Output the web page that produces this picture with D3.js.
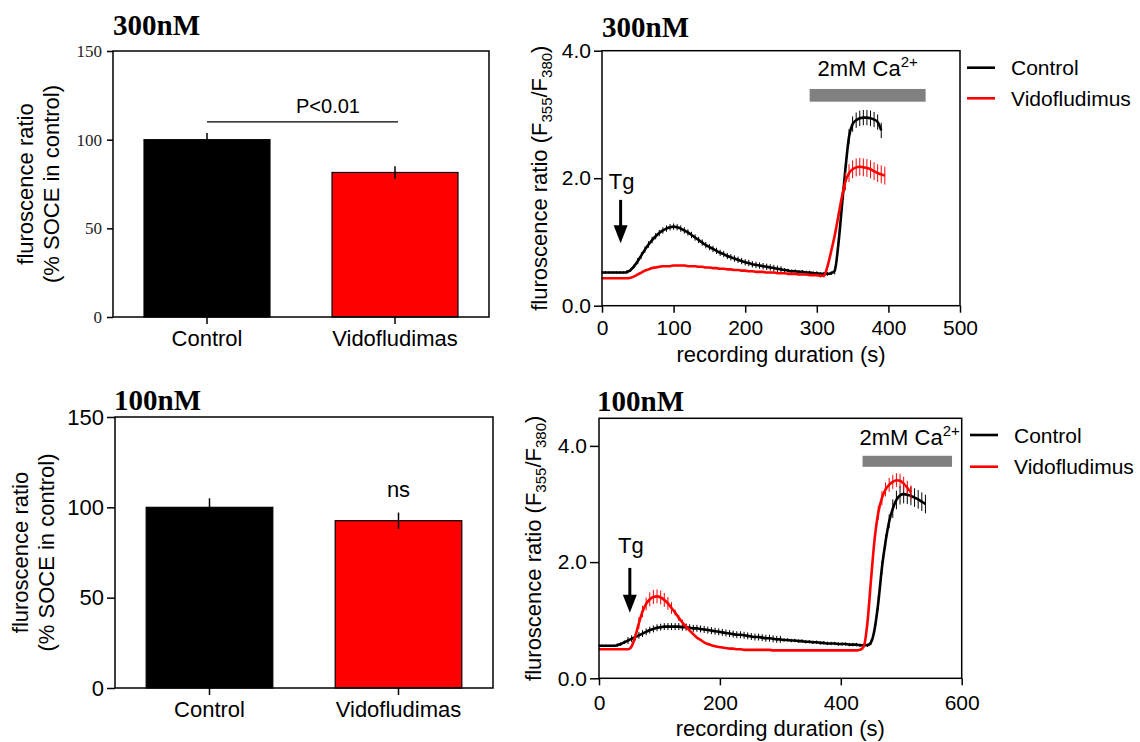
<!DOCTYPE html>
<html>
<head>
<meta charset="utf-8">
<script src="https://cdn.jsdelivr.net/npm/d3@7"></script>
<style>
  body { margin: 0; background: #fff; }
  svg { display: block; font-family: "Liberation Sans", Arial, sans-serif; }
  .title { font-family: "Liberation Serif", "Times New Roman", serif; font-weight: bold; font-size: 29px; }
</style>
</head>
<body>
<svg width="1140" height="742"></svg>
<script>
// bar charts (% SOCE in control)
const groups = ["Control", "Vidofludimas"];
const bars300 = [100, 81.5];
const bars300Err = [3.8, 3.5];
const bars100 = [100, 92.6];
const bars100Err = [5, 4.5];
const barTicks = [0, 50, 100, 150];

const legendNames = ["Control", "Vidofludimus"];
const colors = ["#000000", "#ff0000"];

// 300nM traces, one sample every 5 s
const step300 = 5;
const ctrl300 = [
  0.52, 0.52, 0.52, 0.52, 0.52, 0.52, 0.52,
  0.53, 0.56, 0.62, 0.70, 0.79, 0.88, 0.96, 1.03, 1.09, 1.14, 1.18, 1.21, 1.23, 1.24,
  1.23, 1.21, 1.18, 1.15, 1.11, 1.07, 1.03, 0.99, 0.95, 0.92,
  0.89, 0.86, 0.83, 0.81, 0.78, 0.76, 0.74, 0.72, 0.70, 0.68,
  0.67, 0.65, 0.64, 0.63, 0.62, 0.61, 0.60, 0.59, 0.58, 0.57,
  0.56, 0.55, 0.54, 0.54, 0.53, 0.53, 0.52, 0.52, 0.51, 0.51,
  0.50, 0.50, 0.50, 0.51, 0.55, 0.95, 1.55, 2.15, 2.65,
  2.85, 2.91, 2.94, 2.95, 2.95, 2.94, 2.92, 2.88, 2.75
];
const ctrl300Err = [
  0.02, 0.02, 0.02, 0.02, 0.02, 0.02, 0.02,
  0.03, 0.03, 0.03,
  0.05, 0.05, 0.05, 0.05, 0.05, 0.05, 0.05, 0.05, 0.05, 0.05,
  0.05, 0.05, 0.05, 0.05, 0.05, 0.05, 0.05, 0.05, 0.05, 0.05,
  0.05, 0.05, 0.05, 0.05, 0.05, 0.05, 0.05, 0.05, 0.05, 0.05,
  0.05, 0.05, 0.05, 0.05, 0.05, 0.05, 0.05, 0.05, 0.05, 0.05, 0.05,
  0.03, 0.03, 0.03, 0.03, 0.03, 0.03, 0.03, 0.03, 0.03, 0.03, 0.03, 0.03, 0.03, 0.03,
  0.06, 0.06, 0.06, 0.06,
  0.12, 0.12, 0.12, 0.12, 0.12, 0.12, 0.12, 0.12, 0.12, 0.12
];
const vido300 = [
  0.43, 0.43, 0.43, 0.43, 0.43, 0.43, 0.43,
  0.43, 0.44, 0.46, 0.49, 0.52, 0.55, 0.57, 0.59, 0.60, 0.61, 0.62, 0.62, 0.62, 0.63,
  0.63, 0.63, 0.63, 0.62, 0.62, 0.62, 0.61, 0.61, 0.60, 0.60,
  0.59, 0.59, 0.58, 0.58, 0.57, 0.57, 0.56, 0.56, 0.55, 0.55,
  0.54, 0.54, 0.53, 0.53, 0.53, 0.52, 0.52, 0.52, 0.51, 0.51,
  0.51, 0.50, 0.50, 0.50, 0.49, 0.49, 0.49, 0.48, 0.48, 0.48,
  0.47, 0.47, 0.62, 0.85, 1.10, 1.40, 1.70, 1.95, 2.08,
  2.14, 2.17, 2.18, 2.17, 2.16, 2.14, 2.11, 2.08, 2.06, 2.04
];
const vido300Err = [
  0.01, 0.01, 0.01, 0.01, 0.01, 0.01, 0.01, 0.01, 0.01, 0.01,
  0.01, 0.01, 0.01, 0.01, 0.01, 0.01, 0.01, 0.01, 0.01, 0.01,
  0.01, 0.01, 0.01, 0.01, 0.01, 0.01, 0.01, 0.01, 0.01, 0.01,
  0.01, 0.01, 0.01, 0.01, 0.01, 0.01, 0.01, 0.01, 0.01, 0.01,
  0.01, 0.01, 0.01, 0.01, 0.01, 0.01, 0.01, 0.01, 0.01, 0.01,
  0.01, 0.01, 0.01, 0.01, 0.01, 0.01, 0.01, 0.01, 0.01, 0.01, 0.01,
  0.03, 0.03, 0.03, 0.03, 0.03, 0.03, 0.03,
  0.14, 0.14, 0.14, 0.14, 0.14, 0.14, 0.14, 0.14, 0.14, 0.14, 0.14, 0.14
];

// 100nM traces, one sample every 6 s
const step100 = 6;
const ctrl100 = [
  0.56, 0.56, 0.56, 0.56, 0.56,
  0.57, 0.59, 0.62, 0.65, 0.68, 0.71, 0.74, 0.77, 0.80, 0.83,
  0.85, 0.87, 0.88, 0.89, 0.89, 0.89, 0.89, 0.89, 0.88, 0.88,
  0.87, 0.86, 0.86, 0.85, 0.84, 0.83, 0.82, 0.81, 0.80, 0.79,
  0.78, 0.77, 0.76, 0.75, 0.75, 0.74, 0.73, 0.72, 0.71, 0.71,
  0.70, 0.69, 0.69, 0.68, 0.67, 0.67, 0.66, 0.66, 0.65, 0.65,
  0.64, 0.64, 0.63, 0.63, 0.62, 0.62, 0.61, 0.61, 0.60, 0.60,
  0.60, 0.59, 0.59, 0.59, 0.58, 0.58, 0.58, 0.57, 0.57, 0.57,
  0.62, 0.85, 1.30, 1.90, 2.35, 2.70, 2.92, 3.07, 3.15, 3.17,
  3.16, 3.14, 3.11, 3.08, 3.04, 3.00
];
const ctrl100Err = [
  0.02, 0.02, 0.02, 0.02, 0.02,
  0.03, 0.03, 0.03,
  0.06, 0.06, 0.06, 0.06, 0.06, 0.06, 0.06, 0.06, 0.06, 0.06,
  0.06, 0.06, 0.06, 0.06, 0.06, 0.06, 0.06, 0.06, 0.06, 0.06,
  0.06, 0.06, 0.06, 0.06, 0.06, 0.06, 0.06, 0.06, 0.06, 0.06,
  0.06, 0.06, 0.06, 0.06, 0.06, 0.06, 0.06, 0.06, 0.06, 0.06,
  0.06, 0.06, 0.06,
  0.03, 0.03, 0.03, 0.03, 0.03, 0.03, 0.03, 0.03, 0.03, 0.03, 0.03, 0.03,
  0.03, 0.03, 0.03, 0.03, 0.03, 0.03, 0.03, 0.03, 0.03, 0.03, 0.03, 0.03,
  0.05, 0.05,
  0.12, 0.12, 0.12, 0.12,
  0.16, 0.16, 0.16, 0.16, 0.16, 0.16, 0.16, 0.16, 0.16, 0.16
];
const vido100 = [
  0.50, 0.50, 0.50, 0.50, 0.50, 0.50, 0.50, 0.50, 0.50,
  0.55, 0.72, 0.95, 1.15, 1.28, 1.36, 1.40, 1.41, 1.39, 1.35,
  1.29, 1.21, 1.13, 1.04, 0.96, 0.89, 0.82, 0.76, 0.70, 0.66,
  0.62, 0.59, 0.57, 0.55, 0.54, 0.53, 0.52, 0.51, 0.51, 0.50,
  0.50, 0.49, 0.49, 0.49, 0.49, 0.49, 0.49, 0.49, 0.49, 0.48,
  0.48, 0.48, 0.48, 0.48, 0.48, 0.48, 0.48, 0.48, 0.48, 0.48,
  0.48, 0.48, 0.48, 0.48, 0.48, 0.48, 0.48, 0.48, 0.48, 0.48,
  0.48, 0.48, 0.48, 0.49, 0.55, 0.95, 1.70, 2.40, 2.85, 3.10,
  3.25, 3.33, 3.38, 3.41, 3.40, 3.35, 3.28, 3.20
];
const vido100Err = [
  0.01, 0.01, 0.01, 0.01, 0.01, 0.01, 0.01, 0.01, 0.01,
  0.04, 0.04,
  0.10, 0.10, 0.11, 0.12, 0.12, 0.12, 0.12, 0.12, 0.11, 0.10,
  0.05, 0.05, 0.05, 0.05,
  0.01, 0.01, 0.01, 0.01, 0.01, 0.01, 0.01, 0.01, 0.01, 0.01,
  0.01, 0.01, 0.01, 0.01, 0.01, 0.01, 0.01, 0.01, 0.01, 0.01,
  0.01, 0.01, 0.01, 0.01, 0.01, 0.01, 0.01, 0.01, 0.01, 0.01,
  0.01, 0.01, 0.01, 0.01, 0.01, 0.01, 0.01, 0.01, 0.01, 0.01,
  0.01, 0.01, 0.01, 0.01, 0.01, 0.01, 0.01, 0.01, 0.01,
  0.05, 0.05, 0.05,
  0.12, 0.12, 0.12, 0.12, 0.12, 0.12, 0.12, 0.12, 0.12, 0.12
];

const svg = d3.select("svg");

function drawBarPanel(p) {
  const x = d3.scaleBand().domain(groups).range([p.left, p.right])
    .paddingInner(0.33).paddingOuter(0.165);
  const y = d3.scaleLinear().domain([0, 150]).range([p.bottom, p.top]);
  const g = svg.append("g");

  g.selectAll("rect.bar").data(p.values).enter().append("rect")
    .attr("class", "bar")
    .attr("x", (d, i) => x(groups[i]))
    .attr("y", (d) => y(d))
    .attr("width", x.bandwidth())
    .attr("height", (d) => y(0) - y(d))
    .attr("fill", (d, i) => colors[i])
    .attr("stroke", "#000")
    .attr("stroke-width", 1.2);

  g.selectAll("line.err").data(p.values).enter().append("line")
    .attr("x1", (d, i) => x(groups[i]) + x.bandwidth() / 2)
    .attr("x2", (d, i) => x(groups[i]) + x.bandwidth() / 2)
    .attr("y1", (d, i) => y(d - p.errs[i]))
    .attr("y2", (d, i) => y(d + p.errs[i]))
    .attr("stroke", "#000")
    .attr("stroke-width", 1.5);

  g.append("rect")
    .attr("x", p.left).attr("y", p.top)
    .attr("width", p.right - p.left).attr("height", p.bottom - p.top)
    .attr("fill", "none").attr("stroke", "#000").attr("stroke-width", 1.5);

  const yAxis = g.append("g")
    .attr("transform", `translate(${p.left},0)`)
    .call(d3.axisLeft(y).tickValues(barTicks).tickSize(p.tickY).tickPadding(p.padY).tickSizeOuter(0));
  yAxis.select(".domain").remove();
  yAxis.selectAll("line").attr("stroke-width", 1.5);
  yAxis.selectAll("text")
    .style("font-family", p.tickFont)
    .style("font-size", p.tickSizePx + "px")
    .attr("fill", p.tickColor);

  const xAxis = g.append("g")
    .attr("transform", `translate(0,${p.bottom})`)
    .call(d3.axisBottom(x).tickSize(7).tickPadding(6).tickSizeOuter(0));
  xAxis.select(".domain").remove();
  xAxis.selectAll("line").attr("stroke-width", 1.5);
  xAxis.selectAll("text").style("font-family", null).style("font-size", "22px");

  const mid = (p.top + p.bottom) / 2;
  g.append("text")
    .attr("transform", `translate(${p.lab1},${mid}) rotate(-90)`)
    .attr("text-anchor", "middle").style("font-size", "22px")
    .text("fluroscence ratio");
  g.append("text")
    .attr("transform", `translate(${p.lab2},${mid}) rotate(-90)`)
    .attr("text-anchor", "middle").style("font-size", "22px")
    .text("(% SOCE in control)");

  svg.append("text").attr("class", "title")
    .attr("x", p.titleX).attr("y", p.titleY).text(p.title);

  return { x, y, g };
}

function drawLinePanel(p) {
  const x = d3.scaleLinear().domain([0, p.xMax]).range([p.left, p.right]);
  const y = d3.scaleLinear().domain([0, p.yMax]).range([p.bottom, p.top]);
  const g = svg.append("g");

  // calcium bar + label
  g.append("rect")
    .attr("x", x(p.ca[0])).attr("y", y(p.ca[3]))
    .attr("width", x(p.ca[1]) - x(p.ca[0]))
    .attr("height", y(p.ca[2]) - y(p.ca[3]))
    .attr("fill", "#808080");
  const ca = g.append("text")
    .attr("x", x(p.caText[0])).attr("y", y(p.caText[1]))
    .style("font-size", "22px");
  ca.append("tspan").text("2mM Ca");
  ca.append("tspan").attr("dy", -9).style("font-size", "15px").text("2+");

  // Tg arrow
  const ax = x(p.tg[0]);
  const tip = y(p.tg[1]);
  g.append("line")
    .attr("x1", ax).attr("x2", ax)
    .attr("y1", y(p.tg[2])).attr("y2", tip - 14)
    .attr("stroke", "#000").attr("stroke-width", 3);
  g.append("path")
    .attr("d", `M${ax - 7},${tip - 18}L${ax + 7},${tip - 18}L${ax},${tip}Z`)
    .attr("fill", "#000");
  g.append("text")
    .attr("x", ax + 1).attr("y", y(p.tg[3]))
    .attr("text-anchor", "middle").style("font-size", "22px")
    .text("Tg");

  const line = d3.line()
    .x((d) => x(d.t)).y((d) => y(d.v))
    .curve(d3.curveMonotoneX);

  p.series.forEach((s, k) => {
    const pts = s.values.map((v, i) => ({ t: i * p.step, v: v, e: s.errs[i] || 0 }));
    g.append("g").selectAll("line").data(pts).enter().append("line")
      .attr("x1", (d) => x(d.t)).attr("x2", (d) => x(d.t))
      .attr("y1", (d) => y(d.v - d.e)).attr("y2", (d) => y(d.v + d.e))
      .attr("stroke", colors[k]).attr("stroke-width", 1);
    g.append("path").datum(pts)
      .attr("d", line)
      .attr("fill", "none")
      .attr("stroke", colors[k])
      .attr("stroke-width", 2.6);
  });

  g.append("rect")
    .attr("x", p.left).attr("y", p.top)
    .attr("width", p.right - p.left).attr("height", p.bottom - p.top)
    .attr("fill", "none").attr("stroke", "#000").attr("stroke-width", 1.5);

  const yAxis = g.append("g")
    .attr("transform", `translate(${p.left},0)`)
    .call(d3.axisLeft(y).tickValues([0, 2, 4]).tickFormat(d3.format(".1f"))
      .tickSize(p.tickY).tickPadding(3).tickSizeOuter(0));
  yAxis.select(".domain").remove();
  yAxis.selectAll("line").attr("stroke-width", 1.5);
  yAxis.selectAll("text").style("font-family", null).style("font-size", "21px");

  const xAxis = g.append("g")
    .attr("transform", `translate(0,${p.bottom})`)
    .call(d3.axisBottom(x).tickValues(p.xTicks).tickSize(7).tickPadding(p.padX).tickSizeOuter(0));
  xAxis.select(".domain").remove();
  xAxis.selectAll("line").attr("stroke-width", 1.5);
  xAxis.selectAll("text").style("font-family", null).style("font-size", "21px");

  g.append("text")
    .attr("x", (p.left + p.right) / 2).attr("y", p.xLabY)
    .attr("text-anchor", "middle").style("font-size", "22px")
    .text("recording duration (s)");

  const yl = g.append("text")
    .attr("transform", `translate(${p.yLabX},${(p.top + p.bottom) / 2}) rotate(-90)`)
    .attr("text-anchor", "middle").style("font-size", "22px");
  yl.append("tspan").text("fluroscence ratio (F");
  yl.append("tspan").attr("dy", 5).style("font-size", "15px").text("355");
  yl.append("tspan").attr("dy", -5).text("/F");
  yl.append("tspan").attr("dy", 5).style("font-size", "15px").text("380");
  yl.append("tspan").attr("dy", -5).text(")");

  // legend
  legendNames.forEach((name, k) => {
    const ly = p.legY[k];
    svg.append("line")
      .attr("x1", p.legX).attr("x2", p.legX + 28)
      .attr("y1", ly).attr("y2", ly)
      .attr("stroke", colors[k]).attr("stroke-width", 2.6);
    svg.append("text")
      .attr("x", p.legX + 44).attr("y", ly + 7.5)
      .style("font-size", "21px")
      .text(name);
  });

  svg.append("text").attr("class", "title")
    .attr("x", p.titleX).attr("y", p.titleY).text(p.title);
}

// top left
const top300 = drawBarPanel({
  left: 113, right: 489, top: 51, bottom: 317,
  values: bars300, errs: bars300Err,
  tickY: 6, padY: 5, tickFont: '"Liberation Serif", "Times New Roman", serif',
  tickSizePx: 17, tickColor: "#222",
  lab1: 33, lab2: 59, title: "300nM", titleX: 113, titleY: 35
});
// significance bracket
top300.g.append("line")
  .attr("x1", top300.x("Control") + top300.x.bandwidth() / 2)
  .attr("x2", top300.x("Vidofludimas") + top300.x.bandwidth() / 2 + 3)
  .attr("y1", top300.y(110)).attr("y2", top300.y(110))
  .attr("stroke", "#000").attr("stroke-width", 1.3);
top300.g.append("text")
  .attr("x", 328).attr("y", top300.y(114.9))
  .attr("text-anchor", "middle").style("font-size", "20px")
  .text("P<0.01");

// bottom left
const bot100 = drawBarPanel({
  left: 115, right: 493, top: 417, bottom: 688,
  values: bars100, errs: bars100Err,
  tickY: 8, padY: 3, tickFont: null, tickSizePx: 22, tickColor: "#000",
  lab1: 28, lab2: 54, title: "100nM", titleX: 114, titleY: 410
});
bot100.g.append("text")
  .attr("x", bot100.x("Vidofludimas") + bot100.x.bandwidth() / 2)
  .attr("y", bot100.y(105.7))
  .attr("text-anchor", "middle").style("font-size", "22px")
  .text("ns");

// top right
drawLinePanel({
  left: 602, right: 960, top: 50.7, bottom: 305.7,
  xMax: 500, yMax: 4, xTicks: [0, 100, 200, 300, 400, 500],
  step: step300,
  series: [{ values: ctrl300, errs: ctrl300Err }, { values: vido300, errs: vido300Err }],
  ca: [290, 452, 3.2, 3.4], caText: [301, 3.61],
  tg: [26, 0.98, 1.66, 1.83],
  tickY: 8, padX: 7, xLabY: 362, yLabX: 547,
  legX: 967, legY: [67.7, 98.3],
  title: "300nM", titleX: 602, titleY: 37
});

// bottom right
drawLinePanel({
  left: 599, right: 961.7, top: 418.3, bottom: 678.3,
  xMax: 600, yMax: 4.475, xTicks: [0, 200, 400, 600],
  step: step100,
  series: [{ values: ctrl100, errs: ctrl100Err }, { values: vido100, errs: vido100Err }],
  ca: [436, 584, 3.64, 3.83], caText: [431, 4.02],
  tg: [51, 1.13, 1.90, 2.16],
  tickY: 9, padX: 10, xLabY: 736, yLabX: 541,
  legX: 970, legY: [435, 466.7],
  title: "100nM", titleX: 597, titleY: 410.7
});
</script>
</body>
</html>
